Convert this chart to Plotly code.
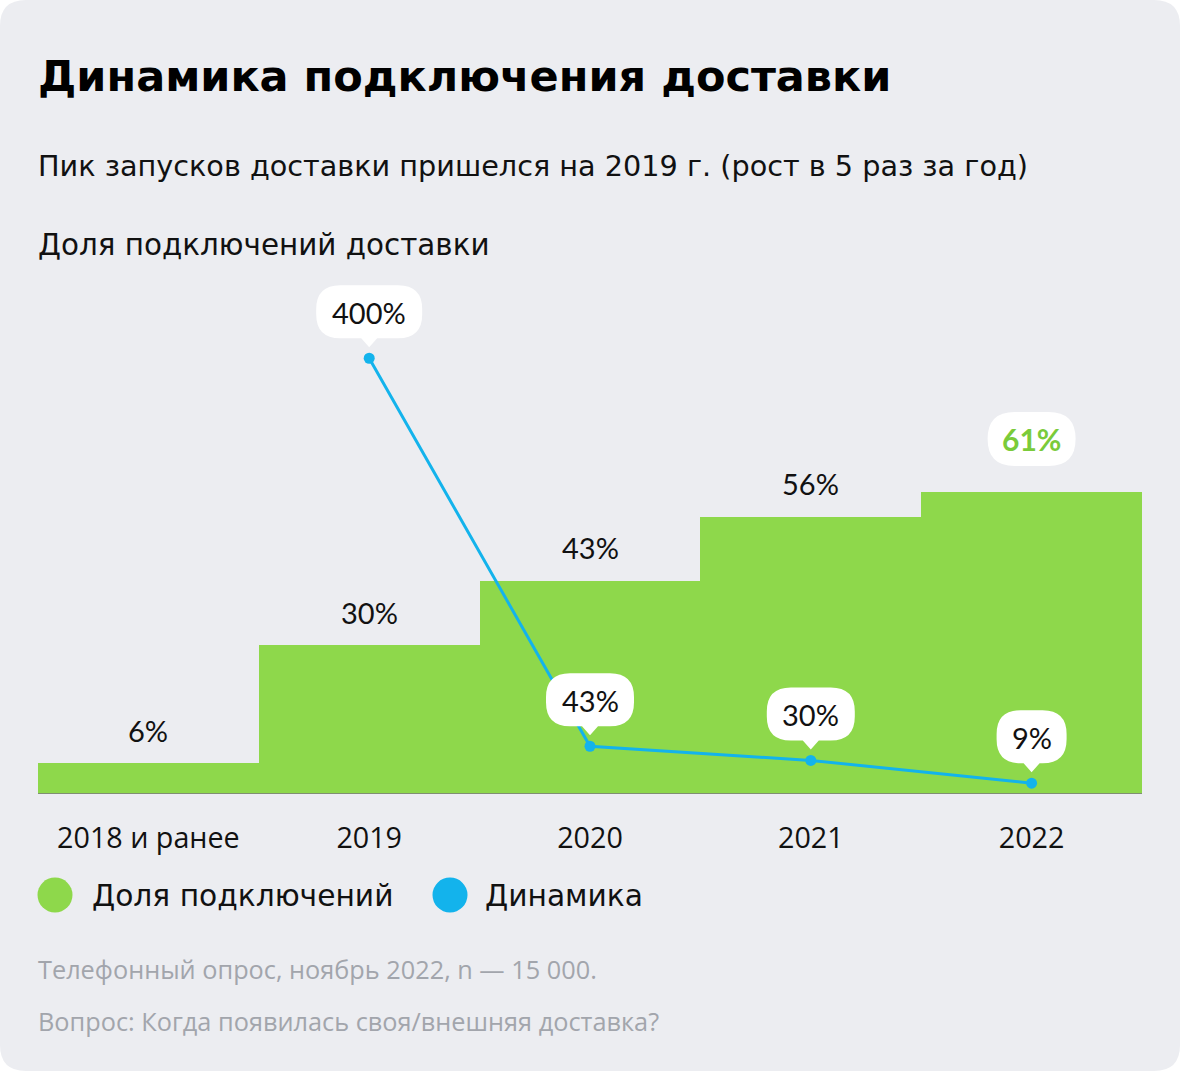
import plotly.graph_objects as go

categories = ["2018 и ранее", "2019", "2020", "2021", "2022"]
share = [6, 30, 43, 56, 61]
dynamics = [None, 400, 43, 30, 9]
share_labels = ["6%", "30%", "43%", "56%", "61%"]
dyn_labels = [None, "400%", "43%", "30%", "9%"]

title = "Динамика подключения доставки"
subtitle = "Пик запусков доставки пришелся на 2019 г. (рост в 5 раз за год)"
axis_title = "Доля подключений доставки"
legend_names = ["Доля подключений", "Динамика"]
footer1 = "Телефонный опрос, ноябрь 2022, n — 15 000."
footer2 = "Вопрос: Когда появилась своя/внешняя доставка?"

GREEN = "#8ED84B"
GREEN_TXT = "#7ACB3A"
BLUE = "#13B3EC"
BG = "#ECEDF1"
FONT = "Lato"
WIDE = "DejaVu Sans"
OPEN = "Open Sans"
W, H = 1180, 1071
L, R, T, B = 38, 38, 280, 278
BASE_Y = H - B  # pixel y of plot bottom

fig = go.Figure()
fig.add_trace(go.Bar(x=categories, y=share, marker=dict(color=GREEN, line=dict(width=0)),
                     width=1, name=legend_names[0], showlegend=False, hoverinfo="skip"))
fig.add_trace(go.Scatter(x=categories, y=dynamics, yaxis="y2", mode="lines+markers",
                         line=dict(color=BLUE, width=3), marker=dict(color=BLUE, size=11),
                         name=legend_names[1], showlegend=False, connectgaps=False, hoverinfo="skip"))

shapes = []
annotations = []

# rounded background card
rad = 26
x0, x1 = -L, W - L
y0, y1 = -B, H - B
bg_path = (f"M {x0+rad},{y0} L {x1-rad},{y0} Q {x1},{y0} {x1},{y0+rad} L {x1},{y1-rad} "
           f"Q {x1},{y1} {x1-rad},{y1} L {x0+rad},{y1} Q {x0},{y1} {x0},{y1-rad} "
           f"L {x0},{y0+rad} Q {x0},{y0} {x0+rad},{y0} Z")
shapes.append(dict(type="path", xref="paper", yref="paper", xsizemode="pixel", ysizemode="pixel",
                   xanchor=0, yanchor=0, path=bg_path, fillcolor=BG, line=dict(width=0), layer="below"))


def bubble(w, b, t, pointer=True, r=24):
    r = min(r, w / 2, (t - b) / 2)
    hw = w / 2
    p = f"M {-hw+r},{b} "
    if pointer:
        p += f"L -8,{b} L 0,{b-9} L 8,{b} "
    p += (f"L {hw-r},{b} Q {hw},{b} {hw},{b+r} L {hw},{t-r} Q {hw},{t} {hw-r},{t} "
          f"L {-hw+r},{t} Q {-hw},{t} {-hw},{t-r} L {-hw},{b+r} Q {-hw},{b} {-hw+r},{b} Z")
    return p


# bar labels
for i, (v, lab) in enumerate(zip(share, share_labels)):
    if i == len(categories) - 1:
        w = 18 * len(lab) + 34
        shapes.append(dict(type="path", xref="x", yref="y", xsizemode="pixel", ysizemode="pixel",
                           xanchor=i, yanchor=v, path=bubble(w, 26, 80, pointer=False, r=27),
                           fillcolor="white", line=dict(width=0), layer="above"))
        annotations.append(dict(x=i, y=v, xref="x", yref="y", text=f"<b>{lab}</b>", showarrow=False,
                                yanchor="middle", yshift=53, font=dict(family=FONT, size=30, color=GREEN_TXT)))
    else:
        annotations.append(dict(x=i, y=v, xref="x", yref="y", text=lab, showarrow=False,
                                yanchor="middle", yshift=33, font=dict(family=FONT, size=29, color="#111111")))

# line labels
for i, (v, lab) in enumerate(zip(dynamics, dyn_labels)):
    if v is None:
        continue
    w = 18 * len(lab) + 34
    shapes.append(dict(type="path", xref="x", yref="y2", xsizemode="pixel", ysizemode="pixel",
                       xanchor=i, yanchor=v, path=bubble(w, 20, 73),
                       fillcolor="white", line=dict(width=0), layer="above"))
    annotations.append(dict(x=i, y=v, xref="x", yref="y2", text=lab, showarrow=False,
                            yanchor="middle", yshift=46, font=dict(family=FONT, size=29, color="#111111")))


def ptext(text, xpx, ypx, size, color="#111111", family=FONT, bold=False):
    annotations.append(dict(x=0, y=0, xref="paper", yref="paper", xanchor="left", yanchor="middle",
                            xshift=xpx - L, yshift=BASE_Y - ypx,
                            text=f"<b>{text}</b>" if bold else text, showarrow=False,
                            font=dict(family=family, size=size, color=color)))


ptext(title, 36, 76, 43, "#000000", family=WIDE, bold=True)
ptext(subtitle, 36, 166, 28.7, family=WIDE)
ptext(axis_title, 36, 245, 29.4, family=WIDE)
ptext(footer1, 36, 969, 25.3, "#A2A5AC", family=OPEN)
ptext(footer2, 36, 1021, 25.3, "#A2A5AC", family=OPEN)

# legend
for name, color, cx, tx in [(legend_names[0], GREEN, 55, 90), (legend_names[1], BLUE, 450, 483)]:
    dx, dy = cx - L, BASE_Y - 895
    shapes.append(dict(type="circle", xref="paper", yref="paper", xsizemode="pixel", ysizemode="pixel",
                       xanchor=0, yanchor=0, x0=dx - 17.5, x1=dx + 17.5, y0=dy - 17.5, y1=dy + 17.5,
                       fillcolor=color, line=dict(width=0)))
    ptext(name, tx, 895, 29.7, family=WIDE)

fig.update_layout(
    width=W, height=H,
    margin=dict(l=L, r=R, t=T, b=B),
    paper_bgcolor="white", plot_bgcolor="rgba(0,0,0,0)",
    bargap=0, showlegend=False,
    font=dict(family=FONT, size=26, color="#111111"),
    xaxis=dict(type="category", range=[-0.5, 4.5], showgrid=False, zeroline=False,
               showline=True, linecolor="#7F8F72", linewidth=1,
               ticks="outside", ticklen=20, tickcolor="rgba(0,0,0,0)",
               tickfont=dict(family=OPEN, size=28.7, color="#111111")),
    yaxis=dict(range=[0, 104], visible=False, showgrid=False, zeroline=False),
    yaxis2=dict(range=[0, 472], overlaying="y", visible=False, showgrid=False, zeroline=False),
    shapes=shapes, annotations=annotations,
)

fig.write_html("out.html", config={"displayModeBar": False},
               post_script="document.body.style.margin='0';")
